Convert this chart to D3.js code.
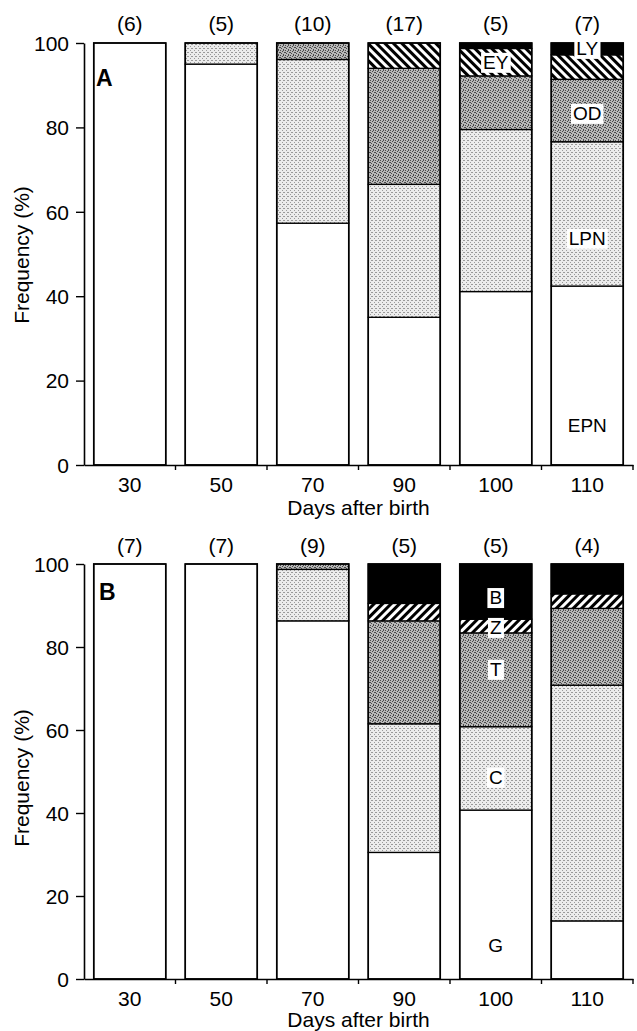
<!DOCTYPE html>
<html><head><meta charset="utf-8">
<script src="https://cdn.jsdelivr.net/npm/d3@7/dist/d3.min.js"></script>
<style>
body{margin:0;background:#fff}
svg{display:block}
text{font-family:"Liberation Sans",Arial,Helvetica,sans-serif;fill:#000}
</style>
</head><body>
<svg id="c" width="637" height="1031"></svg>
<script>
// ---------- data ----------
const days = ["30","50","70","90","100","110"];
const yTicks = [0,20,40,60,80,100];

// Panel A
const countsA = ["(6)","(5)","(10)","(17)","(5)","(7)"];
const catsA = ["EPN","LPN","OD","EY","LY"];
const EPN = [100, 95, 57.3, 35.0, 41.1, 42.4];
const LPN = [0, 5, 38.8, 31.5, 38.4, 34.2];
const OD  = [0, 0, 3.9, 27.5, 12.7, 14.8];
const EY  = [0, 0, 0, 6.0, 6.5, 5.8];
const LY  = [0, 0, 0, 0, 1.3, 2.8];

// Panel B
const countsB = ["(7)","(7)","(9)","(5)","(5)","(4)"];
const catsB = ["G","C","T","Z","B"];
const G  = [100, 100, 86.3, 30.5, 40.7, 14.0];
const C  = [0, 0, 12.4, 31.0, 20.1, 56.8];
const T  = [0, 0, 1.3, 24.8, 22.6, 18.5];
const Z  = [0, 0, 0, 4.2, 3.3, 3.5];
const Bk = [0, 0, 0, 9.5, 13.3, 7.2];

// in-bar labels (category, day, value level of label)
const labelsA = [
  {text:"EPN", day:"110", level:9.5, box:false},
  {text:"LPN", day:"110", level:53.8, box:true},
  {text:"OD",  day:"110", level:83.4, box:true},
  {text:"EY",  day:"100", level:95.5, box:true},
  {text:"LY",  day:"110", level:98.8, box:true}
];
const labelsB = [
  {text:"G", day:"100", level:8.2, box:false},
  {text:"C", day:"100", level:48.7, box:true},
  {text:"T", day:"100", level:74.7, box:true},
  {text:"Z", day:"100", level:84.8, box:true},
  {text:"B", day:"100", level:92.0, box:true}
];

// ---------- drawing ----------
const svg = d3.select("#c");
const defs = svg.append("defs");

function stipple(id, size, bg, dot, dots){
  const p = defs.append("pattern").attr("id", id)
    .attr("patternUnits","userSpaceOnUse").attr("width",size).attr("height",size);
  p.append("rect").attr("width",size).attr("height",size).attr("fill",bg);
  dots.forEach(([x,y])=>p.append("rect").attr("x",x).attr("y",y).attr("width",1).attr("height",1).attr("fill",dot));
}
stipple("light", 4, "#ececec", "#9a9a9a", [[0,0],[2,2],[3,0]]);
stipple("dark", 5, "#b8b8b8", "#4a4a4a", [[0,0],[2,1],[4,2],[1,3],[3,4],[3,0],[0,2]]);

function hatch(id, angle){
  const p = defs.append("pattern").attr("id", id)
    .attr("patternUnits","userSpaceOnUse").attr("width",6).attr("height",6)
    .attr("patternTransform",`rotate(${angle})`);
  p.append("rect").attr("width",6).attr("height",6).attr("fill","#fff");
  p.append("rect").attr("width",3).attr("height",6).attr("fill","#000");
}
hatch("hatchBack", -45);
hatch("hatchFwd", 45);

const x = d3.scaleBand().domain(days).range([84, 633]).paddingInner(0.213).paddingOuter(0.1065);

function panel(cfg){
  const y = d3.scaleLinear().domain([0,100]).range([cfg.y0, cfg.y1]);
  const rows = days.map((d,i)=>{
    const r = {day:d};
    cfg.cats.forEach((c,k)=> r[c] = cfg.series[k][i]);
    return r;
  });
  const stack = d3.stack().keys(cfg.cats)(rows);
  const fills = ["#fff","url(#light)","url(#dark)",cfg.hatch,"#000"];
  const g = svg.append("g");

  stack.forEach((layer,k)=>{
    g.selectAll(null).data(layer.filter(s=>s[1]-s[0]>0)).join("rect")
      .attr("x", s=>x(s.data.day))
      .attr("width", x.bandwidth())
      .attr("y", s=>y(s[1]))
      .attr("height", s=>y(s[0])-y(s[1]))
      .attr("fill", fills[k])
      .attr("stroke","#000").attr("stroke-width",1.3);
  });
  // bar outlines
  g.selectAll(null).data(days).join("rect")
    .attr("x", d=>x(d)).attr("width", x.bandwidth())
    .attr("y", y(100)).attr("height", y(0)-y(100))
    .attr("fill","none").attr("stroke","#000").attr("stroke-width",1.6);

  // y axis
  const ya = g.append("g").attr("transform",`translate(${x.range()[0]},0)`)
    .call(d3.axisLeft(y).tickValues(yTicks).tickSize(8).tickPadding(7).tickSizeOuter(0));
  ya.select(".domain").attr("stroke-width",1.6);
  ya.selectAll(".tick line").attr("stroke-width",1.4);
  ya.selectAll(".tick text").style("font-size","21px").attr("dy","0.35em");

  // x axis: labels at band centres, ticks at band boundaries
  const xa = g.append("g").attr("transform",`translate(0,${cfg.y0})`)
    .call(d3.axisBottom(x).tickSize(0).tickPadding(12).tickSizeOuter(0));
  xa.select(".domain").attr("stroke-width",1.6);
  xa.selectAll(".tick text").style("font-size","21px");
  const bounds = d3.range(1, days.length+1).map(i=>x.range()[0]+i*x.step());
  g.selectAll(null).data(bounds).join("line")
    .attr("x1",d=>d).attr("x2",d=>d).attr("y1",cfg.y0).attr("y2",cfg.y0+5)
    .attr("stroke","#000").attr("stroke-width",1.4);

  // x title
  g.append("text").attr("x",(x.range()[0]+x.range()[1])/2).attr("y",cfg.xTitleY)
    .attr("text-anchor","middle").style("font-size","21px").text("Days after birth");
  // y title
  g.append("text").attr("transform",`translate(29,${cfg.yTitleC}) rotate(-90)`)
    .attr("text-anchor","middle").style("font-size","21px").text("Frequency (%)");
  // counts
  g.selectAll(null).data(days).join("text")
    .attr("x", d=>x(d)+x.bandwidth()/2).attr("y", cfg.countY)
    .attr("text-anchor","middle").style("font-size","21px")
    .text((d,i)=>cfg.counts[i]);
  // panel letter
  g.append("text").attr("x",cfg.letterX).attr("y",cfg.letterY)
    .style("font-size","23px").style("font-weight","bold").text(cfg.letter);

  // in-bar labels
  cfg.labels.forEach(l=>{
    const t = g.append("text").attr("x", x(l.day)+x.bandwidth()/2).attr("y", y(l.level))
      .attr("dy","0.36em").attr("text-anchor","middle").style("font-size","19px").text(l.text);
    if(l.box){
      const b = t.node().getBBox();
      g.insert("rect", () => t.node())
        .attr("x", b.x-2).attr("y", b.y+1).attr("width", b.width+4).attr("height", b.height-1)
        .attr("fill","#fff");
    }
  });
}

panel({y0:465, y1:43, cats:catsA, series:[EPN,LPN,OD,EY,LY], hatch:"url(#hatchBack)",
  counts:countsA, labels:labelsA, letter:"A", letterX:96, letterY:86,
  countY:31, xTitleY:515, yTitleC:255});
panel({y0:979, y1:564, cats:catsB, series:[G,C,T,Z,Bk], hatch:"url(#hatchFwd)",
  counts:countsB, labels:labelsB, letter:"B", letterX:99, letterY:600,
  countY:553, xTitleY:1027, yTitleC:778});
</script>
</body></html>
